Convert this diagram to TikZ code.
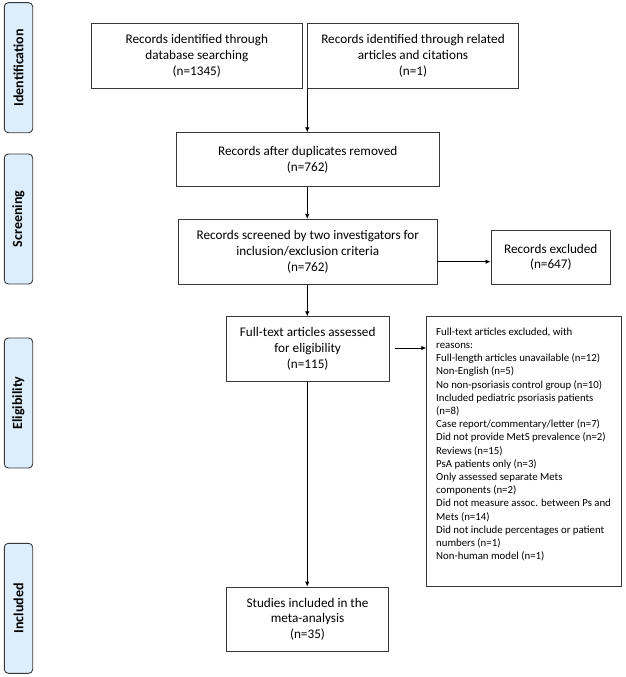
\documentclass[tikz,border=0pt]{standalone}
\usepackage{fontspec}
\setmainfont{Carlito}
\usetikzlibrary{arrows.meta}
\definecolor{lblfill}{RGB}{220,238,251}
\definecolor{edge}{RGB}{55,55,55}
\begin{document}
\begin{tikzpicture}[x=1pt,y=-1pt,
  flowbox/.style={draw=edge,line width=0.9pt,inner sep=0pt,align=center,
    font=\fontsize{13.2}{15.7}\selectfont},
  phase/.style={draw=edge,line width=0.9pt,fill=lblfill,rounded corners=4pt,
    rotate=90,inner sep=0pt,minimum width=130pt,minimum height=28.4pt,
    font=\fontsize{14}{15}\selectfont\bfseries},
  arr/.style={draw=black,line width=0.8pt,-{Latex[length=5pt,width=4.5pt]}}]
\useasboundingbox (0,0) rectangle (625,677);
% phase labels
\node[phase] (pid) at (18.5,67.7) {Identification};
\node[phase] (psc) at (18.5,219) {Screening};
\node[phase] (pel) at (18.5,403) {Eligibility};
\node[phase] (pin) at (18.5,608.3) {Included};
% boxes
\node[flowbox,minimum width=211pt,minimum height=65pt] (b1) at (196.8,55.8)
  {Records identified through\\database searching\\(n=1345)};
\node[flowbox,minimum width=210.6pt,minimum height=65pt] (b2) at (413,55.8)
  {Records identified through related\\articles and citations\\(n=1)};
\node[flowbox,minimum width=262.7pt,minimum height=54pt] (b3) at (307.7,159.7)
  {Records after duplicates removed\\(n=762)};
\node[flowbox,minimum width=258.3pt,minimum height=65pt] (b4) at (307.8,251.8)
  {Records screened by two investigators for\\inclusion/exclusion criteria\\(n=762)};
\node[flowbox,minimum width=119.7pt,minimum height=54.3pt] (b5) at (550.8,257.2)
  {Records excluded\\(n=647)};
\node[flowbox,minimum width=162.7pt,minimum height=64.6pt] (b6) at (307.7,349)
  {Full-text articles assessed\\for eligibility\\(n=115)};
\node[flowbox,minimum width=162.4pt,minimum height=64.3pt] (b7) at (307.5,619.2)
  {Studies included in the\\meta-analysis\\(n=35)};
\node[draw=edge,line width=0.9pt,inner sep=0pt,minimum width=195pt,minimum height=269.3pt] (b8) at (524.2,451.3) {};
\node[anchor=north west,inner sep=0pt,align=left,font=\fontsize{10.8}{13.2}\selectfont] (b8t) at (436,327.5)
  {Full-text articles excluded, with\\
   reasons:\\
   Full-length articles unavailable (n=12)\\
   Non-English (n=5)\\
   No non-psoriasis control group (n=10)\\
   Included pediatric psoriasis patients\\
   (n=8)\\
   Case report/commentary/letter (n=7)\\
   Did not provide MetS prevalence (n=2)\\
   Reviews (n=15)\\
   PsA patients only (n=3)\\
   Only assessed separate Mets\\
   components (n=2)\\
   Did not measure assoc. between Ps and\\
   Mets (n=14)\\
   Did not include percentages or patient\\
   numbers (n=1)\\
   Non-human model (n=1)};
% connectors
\coordinate (j1) at (b2.south west);
\draw[arr] (j1) -- (j1 |- b3.north);
\draw[arr] (b3.south -| j1) -- (b4.north -| j1);
\draw[arr] (b4.east |- 0,261.7) -- (b5.west |- 0,261.7);
\draw[arr] (b4.south -| j1) -- (b6.north -| j1);
\draw[arr] (b6.south -| j1) -- (b7.north -| j1);
\draw[arr,shorten <=5pt] (b6.east |- 0,348) -- (b8.west |- 0,348);
\end{tikzpicture}
\end{document}
